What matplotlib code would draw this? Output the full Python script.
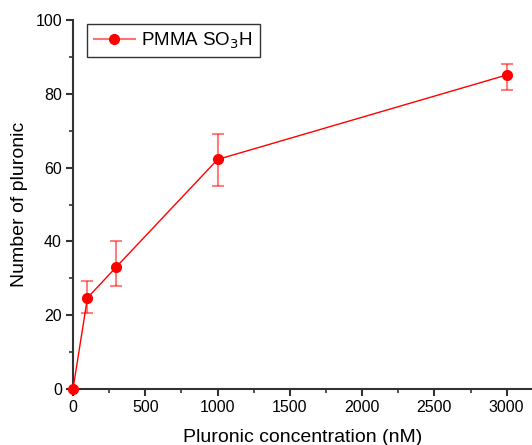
import matplotlib
matplotlib.use("Agg")
import matplotlib.pyplot as plt
from matplotlib.ticker import MultipleLocator

plt.rcParams['font.family'] = ['Liberation Sans', 'DejaVu Sans']

conc = [0, 100, 300, 1000, 3000]
number = [0, 24.7, 33.1, 62.2, 85.1]
err_low = [0, 4.1, 5.2, 7.2, 4.1]
err_high = [0, 4.6, 7.0, 6.9, 3.0]
series_label = r'PMMA SO$_3$H'

fig = plt.figure(figsize=(5.32, 4.45), dpi=100)
ax = fig.add_axes([73/532, 1-389/445, 1-73/532, (389-20)/445])

ax.errorbar(conc, number, yerr=[err_low, err_high], fmt='none',
            ecolor=(1, 0, 0, 0.5), elinewidth=1.5, capsize=4, capthick=1.5, zorder=2)
ax.plot(conc, number, color='red', lw=1, marker='o', ms=7,
        markerfacecolor='red', markeredgecolor='red', zorder=3, clip_on=False)

leg_line, = ax.plot([], [], color=(1, 0.45, 0.45), lw=1.5, marker='o', ms=7,
                    markerfacecolor='red', markeredgecolor='red')
leg = ax.legend([leg_line], [series_label], loc='upper left',
                bbox_to_anchor=(14/459, 1-4/369), borderaxespad=0,
                fontsize=13.5, frameon=True,
                fancybox=False, edgecolor='#333333', framealpha=1,
                handlelength=2.2, borderpad=0.35, handletextpad=0.35)
leg.get_frame().set_linewidth(1)

ax.set_xlim(0, 3175)
ax.set_ylim(0, 100)
ax.xaxis.set_major_locator(MultipleLocator(500))
ax.xaxis.set_minor_locator(MultipleLocator(250))
ax.yaxis.set_major_locator(MultipleLocator(20))
ax.yaxis.set_minor_locator(MultipleLocator(10))

for s in ['top', 'right']:
    ax.spines[s].set_visible(False)
for s in ['left', 'bottom']:
    ax.spines[s].set_linewidth(1.5)
    ax.spines[s].set_color('#333333')

ax.tick_params(which='major', direction='out', length=5, width=1.5,
               color='#333333', labelsize=11.5, pad=3)
ax.tick_params(which='minor', direction='out', length=3, width=1.2, color='#333333')

ax.set_xlabel('Pluronic concentration (nM)', fontsize=14, labelpad=10)
ax.set_ylabel('Number of pluronic', fontsize=14, labelpad=5)

fig.savefig('out.png', dpi=100)
